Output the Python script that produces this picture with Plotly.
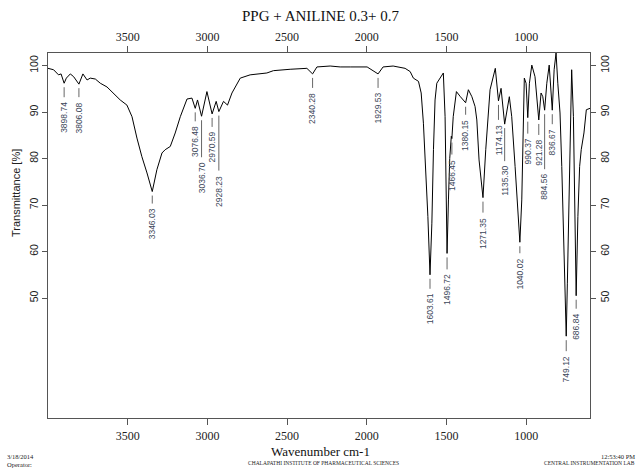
import plotly.graph_objects as go

# ---- spectrum (wavenumber cm-1, transmittance %) ----
wavenumber = [
    4000, 3965, 3934, 3918, 3898.74, 3885, 3860, 3839, 3806.08, 3781, 3755, 3735,
    3703, 3672, 3630, 3599, 3547, 3505, 3473, 3442, 3411, 3379, 3346.03, 3317,
    3285, 3265, 3233, 3202, 3170, 3128, 3097, 3076.48, 3062, 3036.70, 3003,
    2970.59, 2945, 2928.23, 2899, 2874, 2846, 2794, 2732, 2627, 2586, 2481, 2376,
    2340.28, 2313, 2230, 2167, 2104, 1998, 1929.53, 1898, 1835, 1822, 1760, 1728,
    1708, 1676, 1659, 1645, 1630, 1617, 1603.61, 1592, 1582, 1572, 1561, 1530,
    1520, 1509, 1503, 1496.72, 1488, 1480, 1470, 1466.45, 1458, 1438, 1413,
    1380.15, 1363, 1341, 1321, 1310, 1296, 1271.35, 1254, 1227, 1194, 1174.13,
    1158, 1135.30, 1106, 1091, 1070, 1049, 1040.02, 1028, 1018, 1012, 1001,
    990.37, 980, 965, 945, 921.28, 907, 896, 884.56, 871, 856, 836.67, 825, 813,
    802, 788, 777, 767, 757, 749.12, 742, 731, 721, 715, 704, 694, 686.84, 676,
    665, 655, 638, 623, 600,
]
transmittance = [
    99.4, 99.1, 98.0, 98.2, 96.2, 97.3, 98.2, 97.6, 96.0, 98.2, 96.9, 97.3,
    97.1, 96.2, 95.4, 94.4, 92.6, 91.5, 89.0, 84.4, 80.4, 76.9, 72.9, 77.6,
    81.2, 81.9, 82.6, 85.5, 89.0, 92.8, 93.0, 90.8, 92.6, 89.1, 94.4,
    89.6, 92.3, 90.1, 92.3, 91.5, 94.1, 97.3, 98.0, 98.4, 98.9, 99.2, 99.4,
    98.2, 99.7, 99.9, 99.7, 99.7, 99.7, 98.2, 99.7, 99.9, 99.8, 99.4, 98.7,
    97.3, 96.6, 94.1, 87.6, 78.3, 67.5, 55.0, 66.1, 81.9, 92.6, 96.2, 98.0,
    98.4, 89.0, 71.1, 59.6, 71.1, 80.0, 84.8, 84.3, 89.0, 94.4, 93.3,
    92.0, 94.8, 93.3, 91.2, 88.3, 79.7, 71.6, 81.9, 94.8, 99.4, 92.4,
    95.1, 87.4, 93.3, 89.0, 78.3, 67.5, 62.0, 71.1, 89.0, 97.3, 96.2,
    88.8, 96.2, 100.1, 97.6, 88.3, 94.1, 93.3, 90.4, 96.2, 100.1, 90.4, 99.1, 102.7,
    96.2, 89.8, 78.3, 64.0, 48.2, 41.8, 53.2, 74.7, 96.2, 99.1, 89.0, 67.5, 50.5, 67.5,
    78.3, 81.9, 85.5, 90.5, 90.8,
]

# ---- labelled peaks ----
peak_wn = [3898.74, 3806.08, 3346.03, 3076.48, 3036.70, 2970.59, 2928.23,
           2340.28, 1929.53, 1603.61, 1496.72, 1466.45, 1380.15, 1271.35,
           1174.13, 1135.30, 1040.02, 990.37, 921.28, 884.56, 836.67, 749.12,
           686.84]
# leader-line length below each peak, in pixels
peak_lead_px = [10, 9, 8, 9, 37, 9, 55, 10, 10, 10, 12, 12, 8, 11,
                15, 33, 7, 12, 11, 55, 10, 11, 9]

x_ticks = [3500, 3000, 2500, 2000, 1500, 1000]
y_ticks = [50, 60, 70, 80, 90, 100]

X_RANGE = [4000, 600]
Y_RANGE = [24.2, 102.7]

W, H = 640, 473
M_L, M_R, M_T, M_B = 48, 50, 53, 55
PLOT_H = H - M_T - M_B
PLOT_W = W - M_L - M_R
PX = (Y_RANGE[1] - Y_RANGE[0]) / PLOT_H  # transmittance units per pixel

SERIF = "Liberation Serif"
SANS = "Liberation Sans"
BOX = "#555555"

fig = go.Figure()
fig.add_trace(go.Scatter(x=wavenumber, y=transmittance, mode="lines",
                         line=dict(color="black", width=1),
                         hoverinfo="skip", showlegend=False))

# twin axes on top / right
fig.add_trace(go.Scatter(x=wavenumber[:1], y=transmittance[:1], xaxis="x2", yaxis="y2",
                         mode="markers", marker=dict(opacity=0), hoverinfo="skip",
                         showlegend=False))


def value_at(w):
    return transmittance[wavenumber.index(w)]


lx, ly = [], []
annotations = []
for w, lead in zip(peak_wn, peak_lead_px):
    t = value_at(w)
    y0 = t - 4 * PX
    y1 = y0 - lead * PX
    lx += [w, w, None]
    ly += [y0, y1, None]
    annotations.append(dict(x=w, y=y1 - 3 * PX, xref="x", yref="y", text=f"{w:.2f}",
                            textangle=-90, showarrow=False, xanchor="center",
                            yanchor="top", font=dict(family=SANS, size=8.5, color="#3b4658")))

fig.add_trace(go.Scatter(x=lx, y=ly, mode="lines", line=dict(color="#666666", width=1),
                         hoverinfo="skip", showlegend=False))


def px_x(p):
    return (p - M_L) / PLOT_W


def px_y(p):
    return (H - M_B - p) / PLOT_H


annotations += [
    dict(x=px_x(320), y=px_y(16), text="PPG + ANILINE 0.3+ 0.7",
         font=dict(family=SERIF, size=15, color="#111")),
    dict(x=px_x(320), y=px_y(451), text="Wavenumber cm-1",
         font=dict(family=SERIF, size=13, color="#111")),
    dict(x=px_x(16), y=px_y(193), text="Transmittance [%]", textangle=-90,
         font=dict(family=SANS, size=11, color="#222")),
    dict(x=px_x(5), y=px_y(457), text="3/18/2014", xanchor="left",
         font=dict(family=SERIF, size=6.5, color="#222")),
    dict(x=px_x(5), y=px_y(464), text="Operator:", xanchor="left",
         font=dict(family=SERIF, size=6.5, color="#222")),
    dict(x=px_x(323), y=px_y(463), text="CHALAPATHI INSTITUTE OF PHARMACEUTICAL SCIENCES",
         font=dict(family=SERIF, size=5.5, color="#222")),
    dict(x=px_x(637), y=px_y(457), text="12:53:40 PM", xanchor="right",
         font=dict(family=SERIF, size=6.5, color="#222")),
    dict(x=px_x(637), y=px_y(463), text="CENTRAL INSTRUMENTATION LAB", xanchor="right",
         font=dict(family=SERIF, size=5.5, color="#222")),
]
for a in annotations[-8:]:
    a.update(xref="paper", yref="paper", showarrow=False)
    a.setdefault("xanchor", "center")
    a.setdefault("yanchor", "middle")

xcommon = dict(range=X_RANGE, tickvals=x_ticks, ticks="outside", ticklen=6,
               tickcolor=BOX, showline=True, linecolor=BOX, linewidth=1.3,
               showgrid=False, zeroline=False,
               tickfont=dict(family=SERIF, size=12, color="#222"))
ycommon = dict(range=Y_RANGE, tickvals=y_ticks, ticks="outside", ticklen=5,
               tickcolor=BOX, showline=True, linecolor=BOX, linewidth=1.3,
               showgrid=False, zeroline=False, tickangle=-90,
               tickfont=dict(family=SANS, size=10.5, color="#222"))

fig.update_layout(
    width=W, height=H,
    margin=dict(l=M_L, r=M_R, t=M_T, b=M_B),
    paper_bgcolor="white", plot_bgcolor="white",
    xaxis=dict(**xcommon),
    xaxis2=dict(**xcommon, overlaying="x", side="top"),
    yaxis=dict(**ycommon),
    yaxis2=dict(**ycommon, overlaying="y", side="right"),
    annotations=annotations,
    showlegend=False,
)

fig.write_html("out.html")
